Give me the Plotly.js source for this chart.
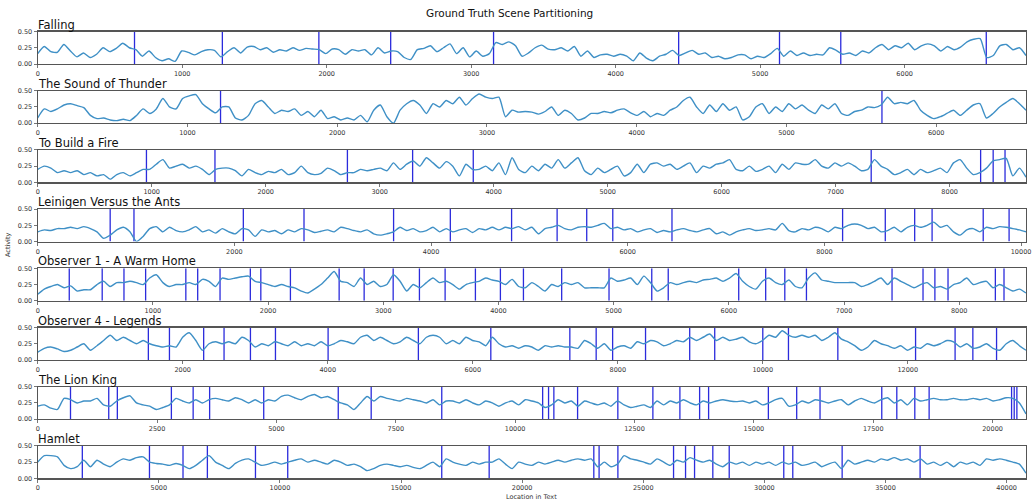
<!DOCTYPE html>
<html>
<head>
<meta charset="utf-8">
<script src="https://cdn.plot.ly/plotly-3.0.1.min.js"></script>
<style>html,body{margin:0;padding:0;background:#fff;}#chart{width:1032px;height:504px;}</style>
</head>
<body>
<div id="chart"></div>
<script>
// ---------------- DATA ----------------
const storyTitles = ["Falling", "The Sound of Thunder", "To Build a Fire", "Leinigen Versus the Ants",
  "Observer 1 - A Warm Home", "Observer 4 - Legends", "The Lion King", "Hamlet"];

// text length (x-axis extent) of each story
const storyLengths = [6840, 6600, 8670, 10050, 8580, 13630, 20700, 40800];

// x tick spacing of each panel
const tickSteps = [1000, 1000, 1000, 2000, 1000, 2000, 2500, 5000];

// y tick labels
const yTickVals = [0, 0.25, 0.5];
const yTickText = ["0.00", "0.25", "0.50"];

// scene boundaries (location in text)
const fallingBounds = [670, 1278, 1946, 2443, 3155, 4436, 5134, 5558, 6565];
const thunderBounds = [1221, 5638];
const fireBounds = [954, 1555, 2717, 3289, 3821, 7312, 8272, 8382, 8486];
const leinigenBounds = [737, 979, 2091, 2708, 3619, 4196, 4819, 5282, 5583, 5848, 6450, 8185, 8619, 8918, 9095, 9615, 9878];
const observer1Bounds = [274, 560, 749, 937, 1286, 1389, 1583, 1846, 1937, 2194, 2617, 2834, 3086, 3314, 3537, 3800, 4017, 4217, 4549, 4960, 5331, 5474, 6086, 6320, 6486, 6674, 7417, 7686, 7789, 7903, 8314, 8389];
const observer4Bounds = [1526, 1817, 2289, 2570, 2934, 3279, 4005, 5250, 6249, 7339, 7702, 7929, 8383, 8992, 9337, 10000, 10354, 11035, 12107, 12652, 12897, 13224];
const lionKingBounds = [687, 1488, 1668, 2800, 3256, 3601, 4734, 6295, 6985, 8463, 10576, 10700, 10811, 11308, 12151, 12885, 13451, 13864, 14052, 15304, 15897, 16386, 17679, 17994, 18371, 18671, 20398, 20453, 20509];
const hamletBounds = [1842, 4614, 5999, 7005, 8990, 10322, 16680, 18638, 22958, 23176, 23952, 26250, 26745, 27117, 27871, 28548, 30800, 31172, 33210, 36428];

// activity (sampled evenly along each text)
const fallingActivity = [0.16,0.27,0.19,0.18,0.30,0.20,0.11,0.17,0.10,0.15,0.25,0.19,0.24,0.32,0.25,0.22,0.12,0.20,0.10,0.05,
0.08,0.04,0.20,0.18,0.14,0.19,0.22,0.21,0.11,0.19,0.25,0.17,0.26,0.27,0.22,0.25,0.18,0.22,0.20,0.25,
0.21,0.24,0.23,0.22,0.16,0.23,0.22,0.15,0.22,0.20,0.22,0.14,0.25,0.17,0.20,0.19,0.10,0.07,0.22,0.24,
0.28,0.19,0.25,0.31,0.16,0.25,0.11,0.20,0.12,0.16,0.33,0.30,0.34,0.28,0.12,0.17,0.25,0.29,0.23,0.22,
0.25,0.20,0.27,0.12,0.20,0.10,0.14,0.15,0.12,0.15,0.12,0.05,0.17,0.09,0.05,0.12,0.15,0.21,0.13,0.17,
0.21,0.15,0.17,0.10,0.12,0.08,0.10,0.14,0.14,0.08,0.12,0.10,0.16,0.24,0.12,0.20,0.13,0.17,0.13,0.15,
0.14,0.25,0.21,0.15,0.17,0.13,0.20,0.17,0.25,0.30,0.22,0.28,0.25,0.32,0.22,0.28,0.31,0.28,0.20,0.27,
0.22,0.26,0.34,0.38,0.39,0.10,0.13,0.28,0.30,0.22,0.25,0.13];

const thunderActivity = [0.08,0.22,0.18,0.22,0.28,0.30,0.27,0.24,0.12,0.07,0.08,0.05,0.04,0.06,0.04,0.12,0.22,0.15,0.22,0.38,
0.25,0.22,0.38,0.42,0.44,0.30,0.22,0.16,0.25,0.25,0.08,0.05,0.12,0.30,0.35,0.25,0.15,0.20,0.18,0.22,
0.12,0.18,0.10,0.20,0.07,0.10,0.05,0.08,0.05,0.12,0.02,0.20,0.28,0.10,0.00,0.20,0.30,0.35,0.28,0.15,
0.30,0.25,0.35,0.30,0.40,0.28,0.38,0.45,0.40,0.38,0.40,0.10,0.20,0.17,0.18,0.17,0.14,0.18,0.25,0.12,
0.20,0.15,0.05,0.08,0.15,0.15,0.18,0.16,0.20,0.22,0.16,0.12,0.18,0.10,0.15,0.12,0.20,0.25,0.35,0.40,
0.25,0.15,0.28,0.18,0.30,0.20,0.25,0.05,0.10,0.25,0.30,0.15,0.25,0.18,0.30,0.22,0.28,0.20,0.15,0.28,
0.22,0.30,0.15,0.12,0.18,0.20,0.25,0.24,0.28,0.40,0.30,0.32,0.30,0.35,0.20,0.12,0.07,0.10,0.15,0.20,
0.12,0.20,0.28,0.30,0.08,0.15,0.25,0.32,0.38,0.30,0.20];

const fireActivity = [0.20,0.25,0.22,0.15,0.18,0.15,0.18,0.12,0.15,0.10,0.12,0.05,0.12,0.15,0.10,0.15,0.20,0.20,0.28,0.35,
0.22,0.25,0.28,0.22,0.25,0.20,0.12,0.20,0.22,0.22,0.18,0.10,0.20,0.15,0.12,0.17,0.15,0.20,0.12,0.15,
0.25,0.15,0.12,0.14,0.22,0.18,0.12,0.15,0.15,0.20,0.18,0.20,0.22,0.18,0.30,0.20,0.28,0.33,0.25,0.38,
0.30,0.22,0.32,0.25,0.10,0.28,0.20,0.20,0.25,0.18,0.30,0.12,0.38,0.20,0.15,0.25,0.18,0.28,0.22,0.35,
0.22,0.30,0.38,0.18,0.12,0.22,0.15,0.20,0.25,0.10,0.15,0.28,0.15,0.28,0.30,0.25,0.28,0.20,0.25,0.30,
0.15,0.25,0.22,0.28,0.30,0.35,0.20,0.18,0.25,0.17,0.20,0.25,0.15,0.28,0.20,0.30,0.28,0.28,0.35,0.25,
0.22,0.30,0.25,0.30,0.25,0.18,0.20,0.35,0.25,0.20,0.12,0.15,0.20,0.12,0.20,0.15,0.18,0.22,0.15,0.30,
0.35,0.22,0.12,0.15,0.22,0.33,0.35,0.37,0.10,0.22,0.08];

const leinigenActivity = [0.15,0.18,0.17,0.20,0.20,0.22,0.20,0.23,0.20,0.15,0.05,0.10,0.18,0.22,0.15,0.00,0.08,0.20,0.23,0.15,
0.22,0.17,0.15,0.18,0.23,0.15,0.18,0.13,0.20,0.15,0.12,0.20,0.18,0.08,0.18,0.15,0.17,0.12,0.18,0.15,
0.20,0.18,0.14,0.16,0.18,0.15,0.22,0.20,0.17,0.15,0.18,0.12,0.10,0.12,0.15,0.22,0.17,0.20,0.15,0.17,
0.22,0.15,0.20,0.15,0.18,0.20,0.14,0.20,0.18,0.22,0.18,0.22,0.20,0.23,0.18,0.22,0.12,0.20,0.22,0.25,
0.20,0.18,0.22,0.23,0.22,0.25,0.28,0.20,0.22,0.18,0.20,0.15,0.18,0.20,0.14,0.17,0.15,0.18,0.20,0.17,
0.15,0.18,0.20,0.12,0.15,0.10,0.15,0.18,0.20,0.17,0.18,0.20,0.18,0.28,0.17,0.15,0.20,0.18,0.22,0.20,
0.15,0.22,0.20,0.25,0.27,0.25,0.20,0.22,0.15,0.17,0.22,0.15,0.22,0.25,0.22,0.25,0.30,0.22,0.25,0.15,
0.10,0.18,0.20,0.15,0.22,0.20,0.23,0.22,0.20,0.18,0.15];

const observer1Activity = [0.10,0.18,0.22,0.25,0.20,0.23,0.15,0.17,0.17,0.25,0.30,0.22,0.28,0.28,0.30,0.28,0.25,0.35,0.40,0.28,
0.22,0.25,0.25,0.28,0.25,0.33,0.30,0.22,0.35,0.33,0.35,0.37,0.38,0.30,0.28,0.25,0.22,0.25,0.22,0.20,
0.15,0.12,0.18,0.25,0.35,0.45,0.30,0.28,0.22,0.35,0.25,0.30,0.22,0.25,0.40,0.30,0.15,0.25,0.20,0.28,
0.35,0.28,0.30,0.25,0.18,0.25,0.28,0.30,0.35,0.32,0.30,0.25,0.33,0.22,0.20,0.28,0.22,0.15,0.25,0.22,
0.28,0.25,0.28,0.20,0.20,0.20,0.20,0.35,0.30,0.32,0.35,0.25,0.38,0.28,0.15,0.20,0.28,0.25,0.28,0.30,
0.28,0.32,0.33,0.35,0.30,0.35,0.42,0.30,0.22,0.18,0.30,0.35,0.28,0.25,0.32,0.22,0.20,0.35,0.43,0.32,
0.30,0.28,0.28,0.28,0.28,0.22,0.25,0.30,0.35,0.25,0.35,0.30,0.25,0.20,0.25,0.28,0.20,0.22,0.18,0.25,
0.28,0.35,0.25,0.28,0.30,0.20,0.25,0.20,0.15,0.18,0.12];

const observer4Activity = [0.12,0.18,0.20,0.17,0.13,0.15,0.20,0.25,0.15,0.22,0.30,0.38,0.30,0.35,0.30,0.25,0.30,0.25,0.22,0.20,
0.22,0.20,0.35,0.42,0.30,0.15,0.25,0.28,0.25,0.28,0.25,0.35,0.30,0.20,0.25,0.22,0.28,0.25,0.22,0.28,
0.22,0.25,0.22,0.28,0.22,0.25,0.30,0.28,0.25,0.35,0.38,0.30,0.35,0.30,0.25,0.28,0.35,0.30,0.25,0.35,
0.38,0.35,0.25,0.30,0.25,0.35,0.30,0.28,0.22,0.35,0.25,0.20,0.22,0.18,0.22,0.20,0.15,0.22,0.20,0.22,
0.20,0.20,0.18,0.30,0.25,0.18,0.25,0.15,0.20,0.22,0.18,0.28,0.25,0.30,0.28,0.22,0.25,0.30,0.28,0.35,
0.30,0.35,0.40,0.30,0.35,0.30,0.32,0.35,0.28,0.25,0.30,0.38,0.35,0.45,0.38,0.35,0.38,0.35,0.38,0.30,
0.35,0.42,0.32,0.28,0.22,0.15,0.20,0.30,0.25,0.22,0.18,0.22,0.15,0.20,0.18,0.25,0.22,0.25,0.30,0.28,
0.20,0.25,0.18,0.20,0.25,0.18,0.15,0.25,0.30,0.22,0.15];

const lionKingActivity = [0.20,0.22,0.17,0.15,0.32,0.30,0.25,0.28,0.28,0.32,0.22,0.20,0.28,0.33,0.36,0.25,0.22,0.20,0.15,0.18,
0.22,0.32,0.28,0.25,0.30,0.25,0.30,0.32,0.30,0.28,0.33,0.30,0.25,0.30,0.25,0.30,0.28,0.35,0.37,0.33,
0.30,0.35,0.38,0.33,0.35,0.30,0.25,0.22,0.15,0.25,0.35,0.28,0.35,0.32,0.30,0.28,0.32,0.30,0.28,0.25,
0.30,0.22,0.28,0.28,0.25,0.30,0.25,0.22,0.28,0.25,0.20,0.25,0.28,0.22,0.30,0.28,0.25,0.18,0.22,0.30,
0.25,0.28,0.20,0.28,0.25,0.22,0.25,0.20,0.28,0.22,0.18,0.20,0.22,0.18,0.28,0.22,0.28,0.25,0.30,0.25,
0.22,0.28,0.25,0.28,0.30,0.28,0.27,0.28,0.25,0.28,0.22,0.25,0.30,0.32,0.20,0.22,0.28,0.25,0.30,0.28,
0.25,0.28,0.30,0.22,0.28,0.32,0.28,0.25,0.30,0.33,0.25,0.30,0.22,0.32,0.28,0.30,0.32,0.30,0.30,0.32,
0.30,0.30,0.32,0.30,0.32,0.28,0.30,0.33,0.32,0.25,0.08];

const hamletActivity = [0.25,0.35,0.35,0.33,0.20,0.15,0.18,0.28,0.18,0.28,0.22,0.18,0.25,0.30,0.28,0.32,0.33,0.25,0.23,0.22,
0.20,0.23,0.20,0.15,0.20,0.28,0.35,0.25,0.20,0.15,0.23,0.28,0.30,0.25,0.20,0.22,0.25,0.22,0.25,0.28,
0.30,0.25,0.28,0.25,0.22,0.28,0.25,0.20,0.22,0.18,0.12,0.15,0.20,0.22,0.20,0.18,0.20,0.17,0.15,0.20,
0.25,0.18,0.30,0.25,0.22,0.20,0.25,0.22,0.25,0.25,0.30,0.22,0.15,0.25,0.22,0.20,0.25,0.22,0.25,0.28,
0.25,0.28,0.30,0.28,0.30,0.18,0.25,0.18,0.22,0.35,0.30,0.28,0.25,0.22,0.30,0.25,0.20,0.28,0.25,0.32,
0.28,0.25,0.28,0.22,0.18,0.25,0.22,0.25,0.20,0.25,0.22,0.25,0.20,0.25,0.22,0.25,0.20,0.22,0.25,0.18,
0.22,0.25,0.15,0.28,0.22,0.25,0.28,0.25,0.30,0.28,0.32,0.28,0.30,0.25,0.30,0.22,0.25,0.20,0.25,0.18,
0.25,0.22,0.25,0.20,0.30,0.28,0.30,0.28,0.25,0.22,0.08];

const activitySeries = [fallingActivity, thunderActivity, fireActivity, leinigenActivity,
  observer1Activity, observer4Activity, lionKingActivity, hamletActivity];
const boundarySeries = [fallingBounds, thunderBounds, fireBounds, leinigenBounds,
  observer1Bounds, observer4Bounds, lionKingBounds, hamletBounds];

// ---------------- LAYOUT / TRACES ----------------
const W = 1032, H = 504;
const FONT = "DejaVu Sans, Liberation Sans, sans-serif";
const xDom = [37.7 / W, 1026 / W];
const traces = [];
const annotations = [];
const layout = {
  width: W, height: H,
  margin: {l: 0, r: 0, t: 0, b: 0},
  paper_bgcolor: "#fff", plot_bgcolor: "#fff",
  showlegend: false,
  font: {family: FONT, color: "#222"},
  annotations: annotations
};

storyTitles.forEach((title, i) => {
  const k = i + 1;
  const xa = "x" + (k === 1 ? "" : k), ya = "y" + (k === 1 ? "" : k);
  const top = 31.5 + 59.2 * i, bottom = top + 32.5;
  const yDom = [1 - bottom / H, 1 - top / H];
  const N = storyLengths[i];
  const vals = activitySeries[i];
  const xs = vals.map((_, j) => j * N / (vals.length - 1));

  // boundary lines
  const bx = [], by = [];
  boundarySeries[i].forEach(b => { bx.push(b, b, null); by.push(0, 0.5, null); });
  traces.push({x: bx, y: by, xaxis: xa, yaxis: ya, mode: "lines", type: "scatter",
    line: {color: "#2b2bdc", width: 1.3}, hoverinfo: "skip"});
  traces.push({x: xs, y: vals, xaxis: xa, yaxis: ya, mode: "lines", type: "scatter",
    line: {color: "#3f90c6", width: 1.4, shape: "spline", smoothing: 0.6}});

  layout["xaxis" + (k === 1 ? "" : k)] = {
    domain: xDom, anchor: ya, range: [0, N],
    tick0: 0, dtick: tickSteps[i], tickformat: "d",
    showgrid: false, zeroline: false,
    showline: true, mirror: true, linecolor: "#555", linewidth: 1.2,
    ticks: "outside", ticklen: 3, tickcolor: "#555", tickwidth: 0.8,
    tickfont: {size: 6.5, color: "#333", family: FONT}
  };
  layout["yaxis" + (k === 1 ? "" : k)] = {
    domain: yDom, anchor: xa, range: [0, 0.5],
    tickvals: yTickVals, ticktext: yTickText,
    showgrid: false, zeroline: false,
    showline: true, mirror: true, linecolor: "#555", linewidth: 1.2,
    ticks: "outside", ticklen: 3, tickcolor: "#555", tickwidth: 0.8,
    tickfont: {size: 6.5, color: "#333", family: FONT}
  };
  annotations.push({text: title, xref: "paper", yref: "paper", x: xDom[0], y: yDom[1],
    xanchor: "left", yanchor: "bottom", yshift: -1, xshift: -1, borderpad: 0, showarrow: false,
    font: {size: 11.5, color: "#111", family: FONT}});
});

annotations.push({text: "Ground Truth Scene Partitioning", xref: "paper", yref: "paper",
  x: 509 / W, y: 1 - 13 / H, xanchor: "center", yanchor: "middle", showarrow: false,
  font: {size: 10.5, color: "#111", family: FONT}});
annotations.push({text: "Activity", xref: "paper", yref: "paper", x: 8 / W, y: 1 - 245 / H,
  xanchor: "center", yanchor: "middle", textangle: -90, showarrow: false,
  font: {size: 6.5, color: "#333", family: FONT}});
annotations.push({text: "Location in Text", xref: "paper", yref: "paper", x: 531 / W, y: 1 - 497 / H,
  xanchor: "center", yanchor: "middle", showarrow: false,
  font: {size: 6.5, color: "#333", family: FONT}});

Plotly.newPlot("chart", traces, layout, {displayModeBar: false, staticPlot: true});
</script>
</body>
</html>
